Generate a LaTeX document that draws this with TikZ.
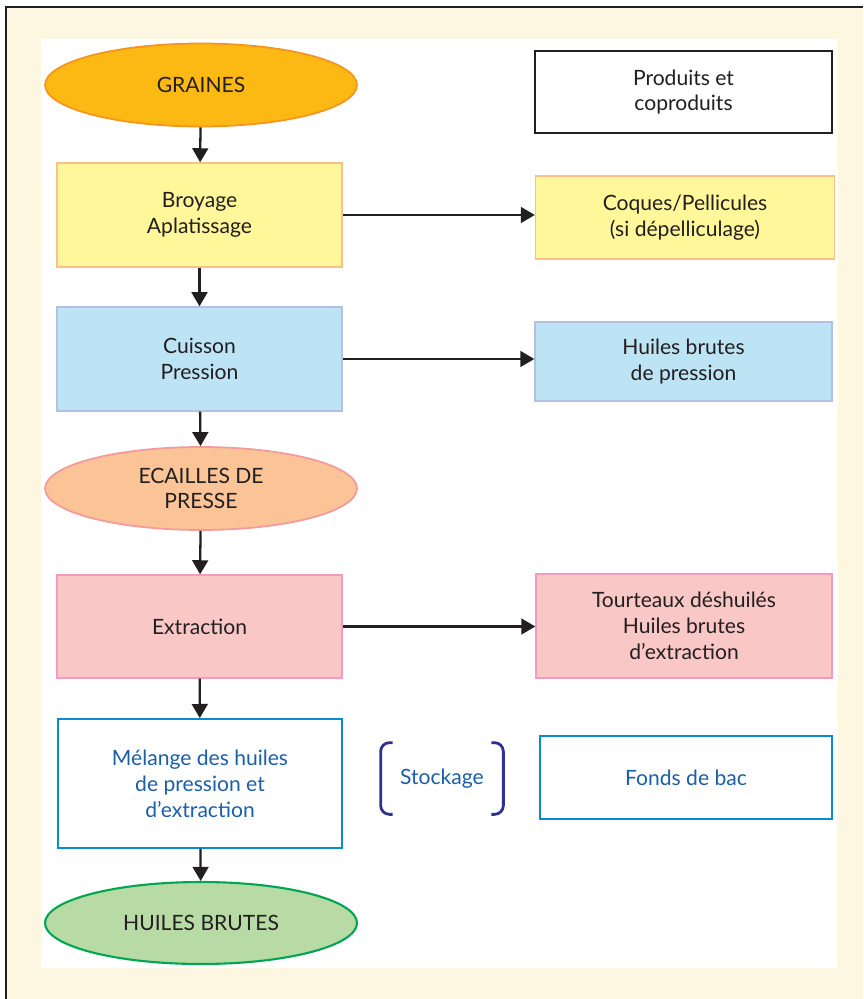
\documentclass[tikz,border=0pt]{standalone}
\usepackage{fontspec, xcolor}
\setmainfont{Lato}
\usetikzlibrary{arrows.meta, shapes.geometric}
\tikzset{>={Triangle[width=9pt,length=8pt]}}

\definecolor{creme}{HTML}{FDF6E0}
\definecolor{texte}{HTML}{231F20}
\definecolor{bleutxt}{HTML}{1B5FAA}
\definecolor{bleutrait}{HTML}{0A8AD0}
\definecolor{marine}{HTML}{2E3192}
\definecolor{orfond}{HTML}{FDB913}
\definecolor{ortrait}{HTML}{F7941D}
\definecolor{jaunefond}{HTML}{FFF799}
\definecolor{jaunetrait}{HTML}{FBC08A}
\definecolor{ciel}{HTML}{BDE4F4}
\definecolor{cieltrait}{HTML}{B4C0E2}
\definecolor{peche}{HTML}{FBC497}
\definecolor{pechetrait}{HTML}{F4999C}
\definecolor{rose}{HTML}{F9C7C5}
\definecolor{rosetrait}{HTML}{F49AC1}
\definecolor{vertfond}{HTML}{B8DBA5}
\definecolor{verttrait}{HTML}{00A651}
\tikzset{
  etape/.style={rectangle, draw, line width=0.8pt, text=texte, align=center,
    font=\fontsize{12}{14.7}\selectfont, inner sep=0pt},
  produit/.style={ellipse, draw, line width=1pt, text=texte, align=center,
    font=\fontsize{12}{14.7}\selectfont, inner sep=0pt,
    minimum width=6.24cm, minimum height=1.66cm},
  fleche/.style={->, line width=1.3pt, color=texte}
}

\begin{document}
\begin{tikzpicture}[x=0.02cm, y=-0.02cm]
\useasboundingbox (0,0) rectangle (863,999);
\fill[white] (0,0) rectangle (863,999);
\fill[creme] (6,7) rectangle (863,999);
\draw[line width=0.8pt, texte] (6,999) |- (863,7);
\fill[white] (41,39) rectangle (838,968);

% colonne de gauche
\node[produit, fill=orfond, draw=ortrait] (graines) at (201,85) {GRAINES};
\node[etape, fill=jaunefond, draw=jaunetrait, minimum width=5.7cm, minimum height=2.08cm]
  (broyage) at (199.5,215) {Broyage\\Aplatissage};
\node[etape, fill=ciel, draw=cieltrait, minimum width=5.7cm, minimum height=2.08cm]
  (cuisson) at (199.5,359) {Cuisson\\Pression};
\node[produit, fill=peche, draw=pechetrait, minimum height=1.66cm]
  (ecailles) at (201,488.5) {ECAILLES DE\\PRESSE};
\node[etape, fill=rose, draw=rosetrait, minimum width=5.7cm, minimum height=2.06cm]
  (extraction) at (199.5,626.5) {Extraction};
\node[etape, fill=white, draw=bleutrait, line width=1.1pt, text=bleutxt,
  minimum width=5.68cm, minimum height=2.58cm]
  (melange) at (200,783.5) {M\'elange des huiles\\de pression et\\d'extraction};
\node[produit, fill=vertfond, draw=verttrait, line width=1.2pt, minimum height=1.64cm]
  (huilesb) at (201,923) {HUILES BRUTES};

% colonne de droite
\node[etape, fill=white, draw=texte, line width=1pt, minimum width=5.94cm, minimum height=1.64cm]
  (produits) at (683.5,92) {Produits et\\coproduits};
\node[etape, fill=jaunefond, draw=jaunetrait, minimum width=5.98cm, minimum height=1.66cm]
  (coques) at (685,217.5) {Coques/Pellicules\\(si d\'epelliculage)};
\node[etape, fill=ciel, draw=cieltrait, minimum width=5.94cm, minimum height=1.58cm]
  (huilesp) at (683.5,361.5) {Huiles brutes\\de pression};
\node[etape, fill=rose, draw=rosetrait, minimum width=5.92cm, minimum height=2.08cm]
  (tourteaux) at (684,626) {Tourteaux d\'eshuil\'es\\Huiles brutes\\d'extraction};
\node[etape, fill=white, draw=bleutrait, line width=1.1pt, text=bleutxt,
  minimum width=5.84cm, minimum height=1.66cm]
  (fonds) at (686,777.5) {Fonds de bac};

% stockage
\node[text=bleutxt, font=\fontsize{12}{14.7}\selectfont, minimum width=2.44cm, minimum height=1.42cm,
  inner sep=0pt] (stock) at (442,778.5) {Stockage};
\draw[marine, line width=1.6pt, rounded corners=5pt]
  ([xshift=0.24cm]stock.north west) -- (stock.north west) -- (stock.south west) -- ([xshift=0.24cm]stock.south west);
\draw[marine, line width=1.6pt, rounded corners=5pt]
  ([xshift=-0.24cm]stock.north east) -- (stock.north east) -- (stock.south east) -- ([xshift=-0.24cm]stock.south east);

% fleches
\draw[fleche] (graines) -- (broyage);
\draw[fleche] (broyage) -- (cuisson);
\draw[fleche] (cuisson) -- (ecailles);
\draw[fleche] (ecailles) -- (extraction);
\draw[fleche] (extraction) -- (melange);
\draw[fleche] (melange) -- (huilesb);
\draw[fleche] (broyage.east) -- (broyage.east -| coques.west);
\draw[fleche] (cuisson.east) -- (cuisson.east -| huilesp.west);
\draw[fleche] (extraction.east) -- (extraction.east -| tourteaux.west);
\end{tikzpicture}
\end{document}
